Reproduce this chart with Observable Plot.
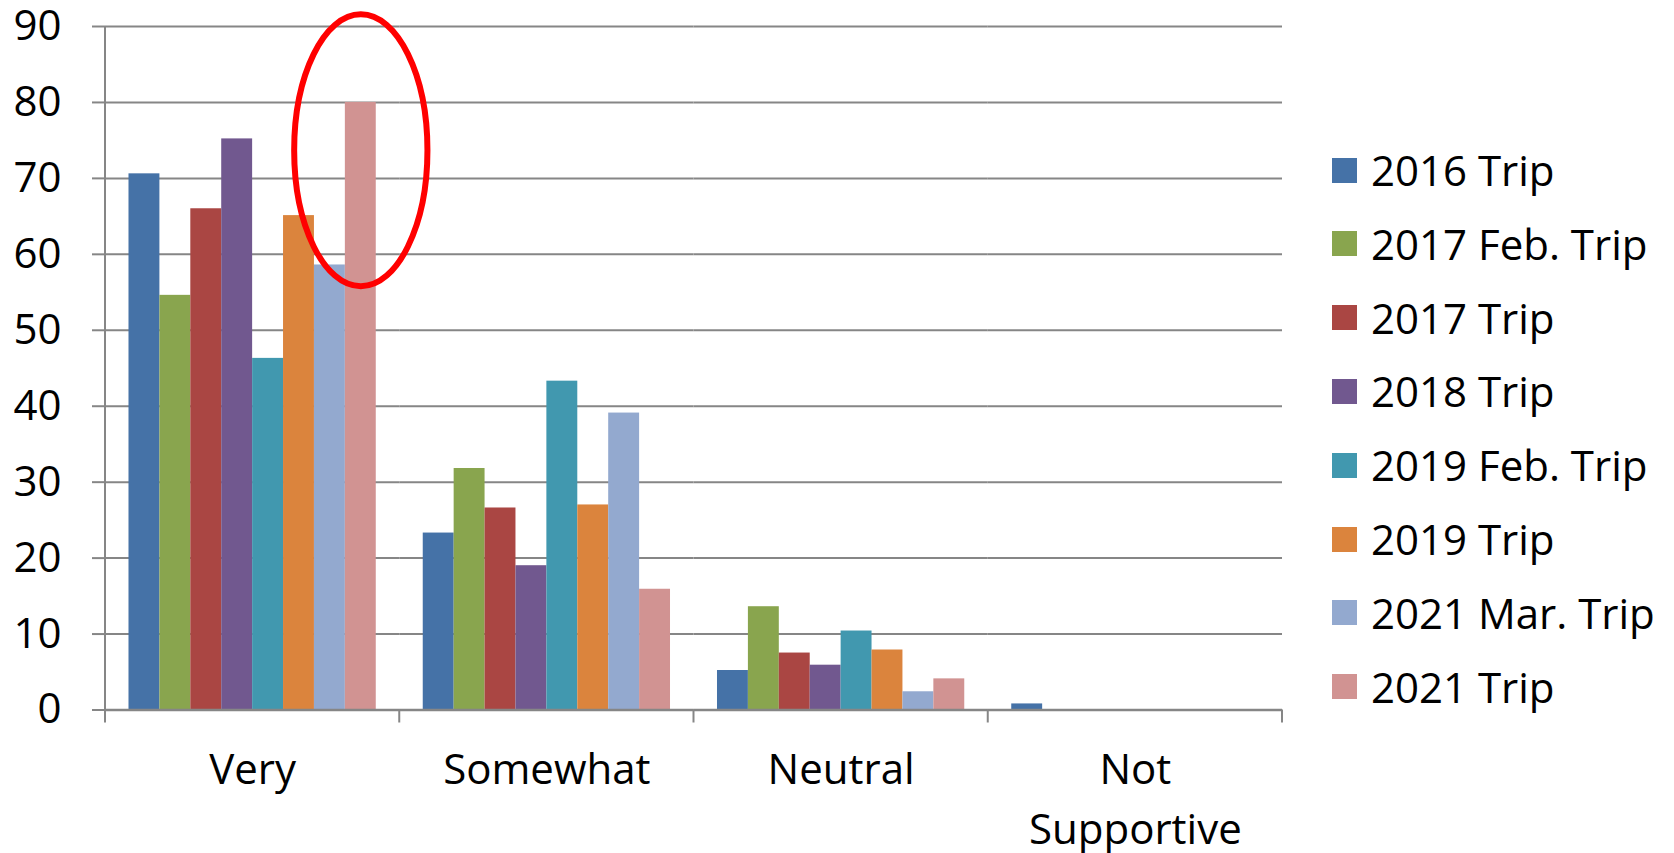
<!DOCTYPE html>
<html><head><meta charset="utf-8">
<script src="https://cdn.jsdelivr.net/npm/d3@7"></script>
<script src="https://cdn.jsdelivr.net/npm/@observablehq/plot@0.6"></script>
<style>
body{margin:0;background:#fff;}
#wrap{position:relative;width:1674px;height:853px;font-family:"Open Sans",sans-serif;}
#legend{position:absolute;left:1332px;top:0;}
.item{position:absolute;left:0;display:flex;align-items:center;white-space:nowrap;font-size:42px;line-height:1;color:#000;transform:translateY(-50%);}
.sw{width:25px;height:25px;margin-right:14px;flex:none;}
</style></head><body><div id="wrap"><div id="chart"></div><div id="legend"></div></div>
<script>
const categories = ["Very", "Somewhat", "Neutral", "Not Supportive"];
const series = ["2016 Trip", "2017 Feb. Trip", "2017 Trip", "2018 Trip", "2019 Feb. Trip", "2019 Trip", "2021 Mar. Trip", "2021 Trip"];
const colors = ["#4572A7", "#89A54E", "#AA4643", "#71588F", "#4198AF", "#DB843D", "#93A9CF", "#D19392"];
const trip2016    = [70.6, 23.3, 5.2, 0.8];
const trip2017Feb = [54.6, 31.8, 13.6, 0];
const trip2017    = [66.0, 26.6, 7.5, 0];
const trip2018    = [75.2, 19.0, 5.9, 0];
const trip2019Feb = [46.3, 43.3, 10.4, 0];
const trip2019    = [65.1, 27.0, 7.9, 0];
const trip2021Mar = [58.6, 39.1, 2.4, 0];
const trip2021    = [80.0, 15.9, 4.1, 0];
const yTicks = [0, 10, 20, 30, 40, 50, 60, 70, 80, 90];
const highlight = [{category: "Very", series: "2021 Trip", value: 73.7}];

const seriesValues = [trip2016, trip2017Feb, trip2017, trip2018, trip2019Feb, trip2019, trip2021Mar, trip2021];
const data = [];
series.forEach((s, i) => categories.forEach((c, j) => data.push({category: c, series: s, value: seriesValues[i][j]})));

const ellipseSymbol = {
  draw(ctx, size) {
    const r = Math.sqrt(size / Math.PI), rx = r * 0.49, ry = r, k = 0.5523;
    ctx.moveTo(rx, 0);
    ctx.bezierCurveTo(rx, ry * k, rx * k, ry, 0, ry);
    ctx.bezierCurveTo(-rx * k, ry, -rx, ry * k, -rx, 0);
    ctx.bezierCurveTo(-rx, -ry * k, -rx * k, -ry, 0, -ry);
    ctx.bezierCurveTo(rx * k, -ry, rx, -ry * k, rx, 0);
    ctx.closePath();
  }
};

const grey = "#868686";
const chart = Plot.plot({
  width: 1674, height: 853,
  marginLeft: 105, marginRight: 392, marginTop: 26, marginBottom: 143.5,
  style: {fontFamily: '"Open Sans", sans-serif', fontSize: "42px", color: "#000", background: "transparent"},
  fx: {domain: categories, padding: 0, label: null, round: false},
  x: {domain: series, paddingInner: 0, paddingOuter: 0.76, round: false, axis: null},
  y: {domain: [0, 90], label: null, axis: null},
  color: {domain: series, range: colors},
  marks: [
    Plot.gridY(yTicks, {stroke: grey, strokeOpacity: 1, strokeWidth: 2}),
    Plot.axisY(yTicks, {anchor: "left", tickSize: 13, tickPadding: 31, stroke: grey, strokeWidth: 2, fontSize: 42, fill: "#000", label: null}),
    Plot.axisFx({anchor: "bottom", tickSize: 0, tickPadding: 31, fontSize: 42, lineHeight: 1.43, label: null,
      tickFormat: d => d.replace(" ", "\n")}),
    Plot.barY(data, {fx: "category", x: "series", y: "value", fill: "series"}),
    Plot.ruleY([0], {stroke: grey, strokeWidth: 2.5}),
    Plot.dot(highlight, {fx: "category", x: "series", y: "value", r: 136, symbol: ellipseSymbol, stroke: "#ff0000", strokeWidth: 6, fill: "none"})
  ]
});
document.getElementById("chart").appendChild(chart);

// category-boundary tick marks and the vertical value-axis line, placed with the chart's own scales
const fxScale = chart.scale("fx");
const yScale = chart.scale("y");
const y0 = yScale.apply(0);
const yTop = yScale.apply(yTicks[yTicks.length - 1]);
const bw = fxScale.bandwidth;
const svg = d3.select(chart.tagName.toLowerCase() === "svg" ? chart : chart.querySelector("svg"));
const ax = svg.insert("g", "g[aria-label='dot']").attr("stroke", grey).attr("stroke-width", 2);
const left = fxScale.apply(categories[0]);
ax.append("line").attr("x1", left).attr("x2", left).attr("y1", yTop).attr("y2", y0 + 13);
categories.forEach(c => {
  const x = fxScale.apply(c) + bw;
  ax.append("line").attr("x1", x).attr("x2", x).attr("y1", y0).attr("y2", y0 + 13);
});

const legend = document.getElementById("legend");
series.forEach((s, i) => {
  const item = document.createElement("div");
  item.className = "item";
  item.style.top = (170 + i * 73.8) + "px";
  const sw = document.createElement("div");
  sw.className = "sw";
  sw.style.background = colors[i];
  const label = document.createElement("span");
  label.textContent = s;
  item.appendChild(sw);
  item.appendChild(label);
  legend.appendChild(item);
});
</script>
</body></html>
